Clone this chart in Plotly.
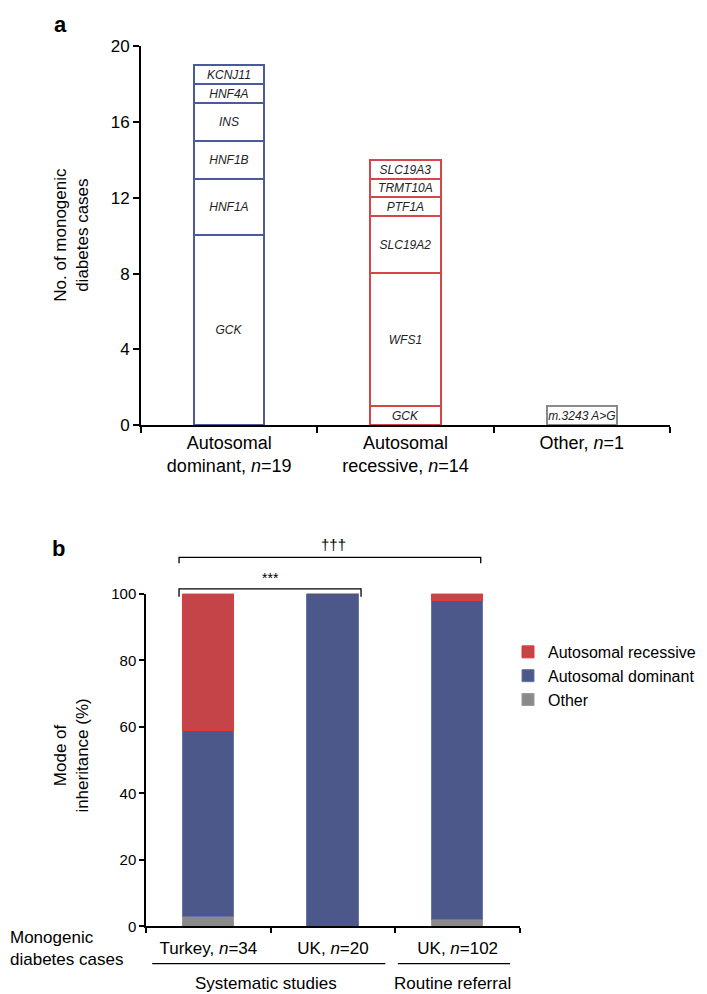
import plotly.graph_objects as go

W, H = 707, 994
FONT = "Liberation Sans, Arial, sans-serif"

# ---------------- Panel a data ----------------
cat_a = ["Autosomal<br>dominant, <i>n</i>=19",
         "Autosomal<br>recessive, <i>n</i>=14",
         "Other, <i>n</i>=1"]
dominant_genes = ["GCK", "HNF1A", "HNF1B", "INS", "HNF4A", "KCNJ11"]
dominant_counts = [10, 3, 2, 2, 1, 1]
recessive_genes = ["GCK", "WFS1", "SLC19A2", "PTF1A", "TRMT10A", "SLC19A3"]
recessive_counts = [1, 7, 3, 1, 1, 1]
other_genes = ["m.3243 A>G"]
other_counts = [1]
y_ticks_a = [0, 4, 8, 12, 16, 20]

# ---------------- Panel b data ----------------
cat_b = ["Turkey, <i>n</i>=34", "UK, <i>n</i>=20", "UK, <i>n</i>=102"]
pct_other = [2.9, 0, 2.0]
pct_dominant = [55.9, 100, 96.0]
pct_recessive = [41.2, 0, 2.0]
y_ticks_b = [0, 20, 40, 60, 80, 100]

BLUE_LINE = "#4a5a9c"
RED_LINE = "#d5464a"
GRAY_LINE = "#8a8a8a"
AR_FILL = "#c44448"
AD_FILL = "#4b5889"
OT_FILL = "#8a8a8a"

def px(x):
    return x / W

def py(y):
    return 1 - y / H

fig = go.Figure()

def add_stack(cat, genes, counts, color):
    for g, c in zip(genes, counts):
        fig.add_trace(go.Bar(
            x=[cat], y=[c], text=[g], texttemplate="<i>%{text}</i>",
            textposition="inside", insidetextanchor="middle", textangle=0,
            constraintext="none",
            textfont=dict(family=FONT, size=12, color="#222222"),
            marker=dict(color="white", line=dict(color=color, width=2.2)),
            width=0.4, showlegend=False, hoverinfo="skip",
            xaxis="x", yaxis="y"))

add_stack(cat_a[0], dominant_genes, dominant_counts, BLUE_LINE)
add_stack(cat_a[1], recessive_genes, recessive_counts, RED_LINE)
add_stack(cat_a[2], other_genes, other_counts, GRAY_LINE)

# Panel b stacked bars (bottom to top)
fig.add_trace(go.Bar(x=cat_b, y=pct_other, name="Other", width=0.41,
                     marker=dict(color=OT_FILL, line=dict(color="#9a9a9a", width=1)),
                     xaxis="x2", yaxis="y2", legendrank=3))
fig.add_trace(go.Bar(x=cat_b, y=pct_dominant, name="Autosomal dominant", width=0.41,
                     marker=dict(color=AD_FILL, line=dict(color="#6676a8", width=1)),
                     xaxis="x2", yaxis="y2", legendrank=2))
fig.add_trace(go.Bar(x=cat_b, y=pct_recessive, name="Autosomal recessive", width=0.41,
                     marker=dict(color=AR_FILL, line=dict(color="#e03a3a", width=1)),
                     xaxis="x2", yaxis="y2", legendrank=1))

axis_common = dict(showgrid=False, zeroline=False, showline=True, linecolor="black",
                   ticks="outside", tickcolor="black", fixedrange=True)

fig.update_layout(
    width=W, height=H, autosize=False,
    margin=dict(l=0, r=0, t=0, b=0),
    paper_bgcolor="white", plot_bgcolor="white",
    barmode="stack", bargap=0,
    font=dict(family=FONT, color="black"),
    xaxis=dict(axis_common, domain=[px(133), px(662)], anchor="y", type="category",
               categoryorder="array", categoryarray=cat_a, range=[-0.5, 2.5],
               tickson="boundaries", ticklen=6, tickwidth=2, linewidth=2,
               tickfont=dict(size=18, family=FONT)),
    yaxis=dict(axis_common, domain=[py(416), py(30)], anchor="x", range=[0, 20],
               tickvals=y_ticks_a, ticklen=6, tickwidth=2, linewidth=2,
               tickfont=dict(size=17, family=FONT)),
    xaxis2=dict(axis_common, domain=[px(138), px(512)], anchor="y2", type="category",
                categoryorder="array", categoryarray=cat_b, range=[-0.5, 2.5],
                tickson="boundaries", ticklen=5, tickwidth=1.5, linewidth=1.5,
                ticklabelstandoff=6,
                tickfont=dict(size=17, family=FONT)),
    yaxis2=dict(axis_common, domain=[py(927), py(588)], anchor="x2", range=[0, 100],
                tickvals=y_ticks_b, ticklen=5, tickwidth=1.5, linewidth=1.5,
                tickfont=dict(size=15, family=FONT)),
    legend=dict(x=px(500), y=py(630), xanchor="left", yanchor="top",
                font=dict(size=16, family=FONT), bgcolor="rgba(0,0,0,0)",
                traceorder="normal", itemwidth=30),
)

ann = []
ann.append(dict(text="<b>a</b>", x=px(44), y=py(8), xref="paper", yref="paper",
                xanchor="left", yanchor="middle", showarrow=False,
                font=dict(size=22, family=FONT)))
ann.append(dict(text="<b>b</b>", x=px(42), y=py(542), xref="paper", yref="paper",
                xanchor="left", yanchor="middle", showarrow=False,
                font=dict(size=22, family=FONT)))
ann.append(dict(text="No. of monogenic<br>diabetes cases", x=px(64), y=py(222),
                xref="paper", yref="paper", textangle=-90, showarrow=False,
                xanchor="center", yanchor="middle",
                font=dict(size=17, family=FONT)))
ann.append(dict(text="Mode of<br>inheritance (%)", x=px(64), y=py(753),
                xref="paper", yref="paper", textangle=-90, showarrow=False,
                xanchor="center", yanchor="middle",
                font=dict(size=17, family=FONT)))
ann.append(dict(text="Monogenic<br>diabetes cases", x=0, y=py(950),
                xref="paper", yref="paper", showarrow=False, align="left",
                xanchor="left", yanchor="middle",
                font=dict(size=17, family=FONT)))
ann.append(dict(text="Systematic studies", x=0.46, y=py(985), xref="x2", yref="paper",
                showarrow=False, xanchor="center", yanchor="middle",
                font=dict(size=17, family=FONT)))
ann.append(dict(text="Routine referral", x=1.96, y=py(985), xref="x2", yref="paper",
                showarrow=False, xanchor="center", yanchor="middle",
                font=dict(size=17, family=FONT)))
ann.append(dict(text="***", x=0.5, y=py(572), xref="x2", yref="paper",
                showarrow=False, xanchor="center", yanchor="middle",
                font=dict(size=14, family=FONT, color="black")))
ann.append(dict(text="†††", x=1.0, y=py(538), xref="x2", yref="paper",
                showarrow=False, xanchor="center", yanchor="middle",
                font=dict(size=15, family=FONT, color="black")))
fig.update_layout(annotations=ann)

shapes = []
def bracket(x0, x1, ytop, ybot):
    shapes.append(dict(type="path", xref="x2", yref="paper",
                       path=f"M {x0},{ybot} L {x0},{ytop} L {x1},{ytop} L {x1},{ybot}",
                       line=dict(color="black", width=1.3)))

bw = 0.41 / 2
bracket(-bw - 0.03, 2 + bw - 0.02, py(551), py(557))
bracket(-bw - 0.03, 1 + bw + 0.02, py(583), py(591))
shapes.append(dict(type="line", xref="x2", yref="paper", x0=-0.45, x1=1.42,
                   y0=py(965), y1=py(965), line=dict(color="black", width=1.3)))
shapes.append(dict(type="line", xref="x2", yref="paper", x0=1.52, x1=2.42,
                   y0=py(965), y1=py(965), line=dict(color="black", width=1.3)))
fig.update_layout(shapes=shapes)

fig.write_html("out.html")
